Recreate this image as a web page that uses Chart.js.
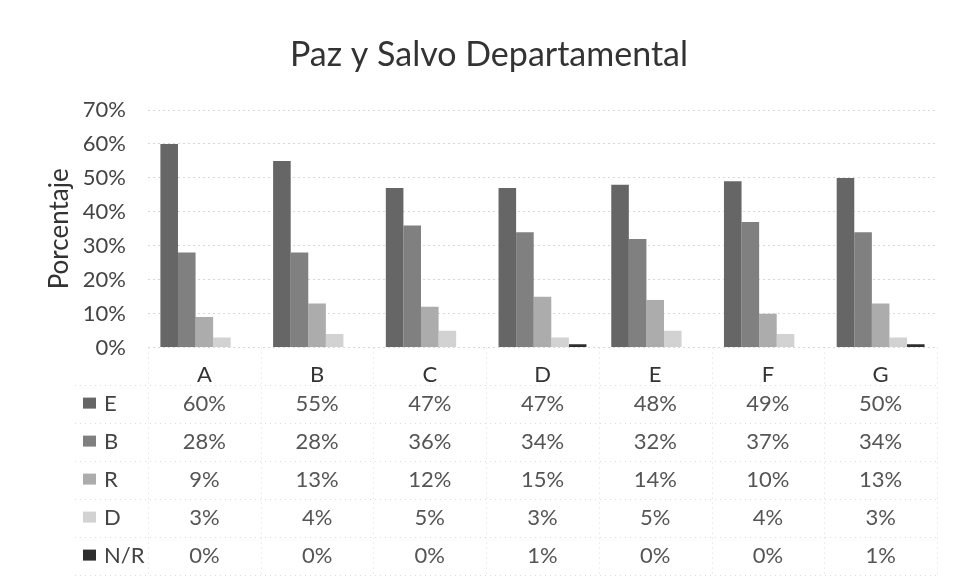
<!DOCTYPE html>
<html lang="es">
<head>
    <meta charset="UTF-8">
    <title>Paz y Salvo Departamental</title>
    <style>
        body { margin: 0; background: #fff; }
        .chart-container { width: 956px; height: 588px; }
    </style>
    <script src="https://cdn.jsdelivr.net/npm/chart.js"></script>
</head>
<body>
    <div class="chart-container">
        <canvas id="pazChart"></canvas>
    </div>

    <script>
        // datos
        const categorias = ['A', 'B', 'C', 'D', 'E', 'F', 'G'];
        const serieE = [60, 55, 47, 47, 48, 49, 50];
        const serieB = [28, 28, 36, 34, 32, 37, 34];
        const serieR = [9, 13, 12, 15, 14, 10, 13];
        const serieD = [3, 4, 5, 3, 5, 4, 3];
        const serieNR = [0, 0, 0, 1, 0, 0, 1];
        const ticksY = [0, 10, 20, 30, 40, 50, 60, 70];

        const titulo = 'Paz y Salvo Departamental';
        const fuente = 'Lato, "Open Sans", sans-serif';

        // titulo + tabla de datos debajo del eje X
        const tablaPlugin = {
            id: 'tablaDatos',
            afterDraw(chart) {
                const ctx = chart.ctx;
                const x = chart.scales.x;
                const area = chart.chartArea;
                const paso = (area.right - area.left) / categorias.length;
                const filaY0 = area.bottom + 56;
                const filaH = 38;

                ctx.save();
                // titulo (el de Excel esta un poco a la derecha del centro)
                ctx.font = '34px ' + fuente;
                ctx.fillStyle = '#333';
                ctx.textAlign = 'center';
                ctx.textBaseline = 'middle';
                ctx.fillText(titulo, 489, 55);

                // lineas punteadas de la tabla
                ctx.strokeStyle = '#dcdcdc';
                ctx.lineWidth = 1;
                ctx.setLineDash([1, 4]);
                for (let i = 0; i <= categorias.length; i++) {
                    const lx = Math.round(area.left + paso * i) + 0.5;
                    ctx.beginPath();
                    ctx.moveTo(lx, area.bottom);
                    ctx.lineTo(lx, filaY0 + filaH * 4 + 20);
                    ctx.stroke();
                }
                for (let j = 0; j <= 5; j++) {
                    const ly = Math.round(filaY0 - filaH / 2 + filaH * j) + 0.5;
                    ctx.beginPath();
                    ctx.moveTo(75, ly);
                    ctx.lineTo(area.right, ly);
                    ctx.stroke();
                }
                ctx.setLineDash([]);

                ctx.font = '22px ' + fuente;
                chart.data.datasets.forEach((ds, j) => {
                    const y = filaY0 + filaH * j;
                    ctx.fillStyle = ds.backgroundColor;
                    ctx.fillRect(83, y - 6, 13, 11);
                    ctx.fillStyle = '#444';
                    ctx.textAlign = 'left';
                    ctx.fillText(ds.label, 104, y);
                    ctx.fillStyle = '#555';
                    ctx.textAlign = 'center';
                    ds.data.forEach((v, i) => {
                        ctx.fillText(v + '%', x.getPixelForValue(i), y);
                    });
                });
                ctx.restore();
            }
        };

        const ctx = document.getElementById('pazChart').getContext('2d');
        new Chart(ctx, {
            type: 'bar',
            data: {
                labels: categorias,
                datasets: [
                    { label: 'E', data: serieE, backgroundColor: '#666666' },
                    { label: 'B', data: serieB, backgroundColor: '#808080' },
                    { label: 'R', data: serieR, backgroundColor: '#acacac' },
                    { label: 'D', data: serieD, backgroundColor: '#d2d2d2' },
                    { label: 'N/R', data: serieNR, backgroundColor: '#2e2e2e' }
                ]
            },
            options: {
                responsive: true,
                maintainAspectRatio: false,
                animation: false,
                layout: { padding: { left: 0, right: 19, top: 110, bottom: 194 } },
                datasets: { bar: { barPercentage: 1.0, categoryPercentage: 0.78 } },
                scales: {
                    x: {
                        grid: { display: false },
                        border: { display: false },
                        ticks: { color: '#333', padding: 6, font: { family: fuente, size: 22 } }
                    },
                    y: {
                        min: 0,
                        max: 70,
                        afterFit(scale) { scale.width = 148; },
                        afterBuildTicks(scale) { scale.ticks = ticksY.map(v => ({ value: v })); },
                        grid: { color: '#d8d8d8', drawTicks: false, lineWidth: 1 },
                        border: { display: false, dash: [2, 3] },
                        ticks: {
                            color: '#444',
                            padding: 22,
                            font: { family: fuente, size: 22 },
                            callback: v => v + '%'
                        },
                        title: {
                            display: true,
                            text: 'Porcentaje',
                            color: '#333',
                            padding: { top: 44, bottom: 0 },
                            font: { family: fuente, size: 26 }
                        }
                    }
                },
                plugins: {
                    legend: { display: false },
                    tooltip: { enabled: false },
                    title: { display: false }
                }
            },
            plugins: [tablaPlugin]
        });
    </script>
</body>
</html>
